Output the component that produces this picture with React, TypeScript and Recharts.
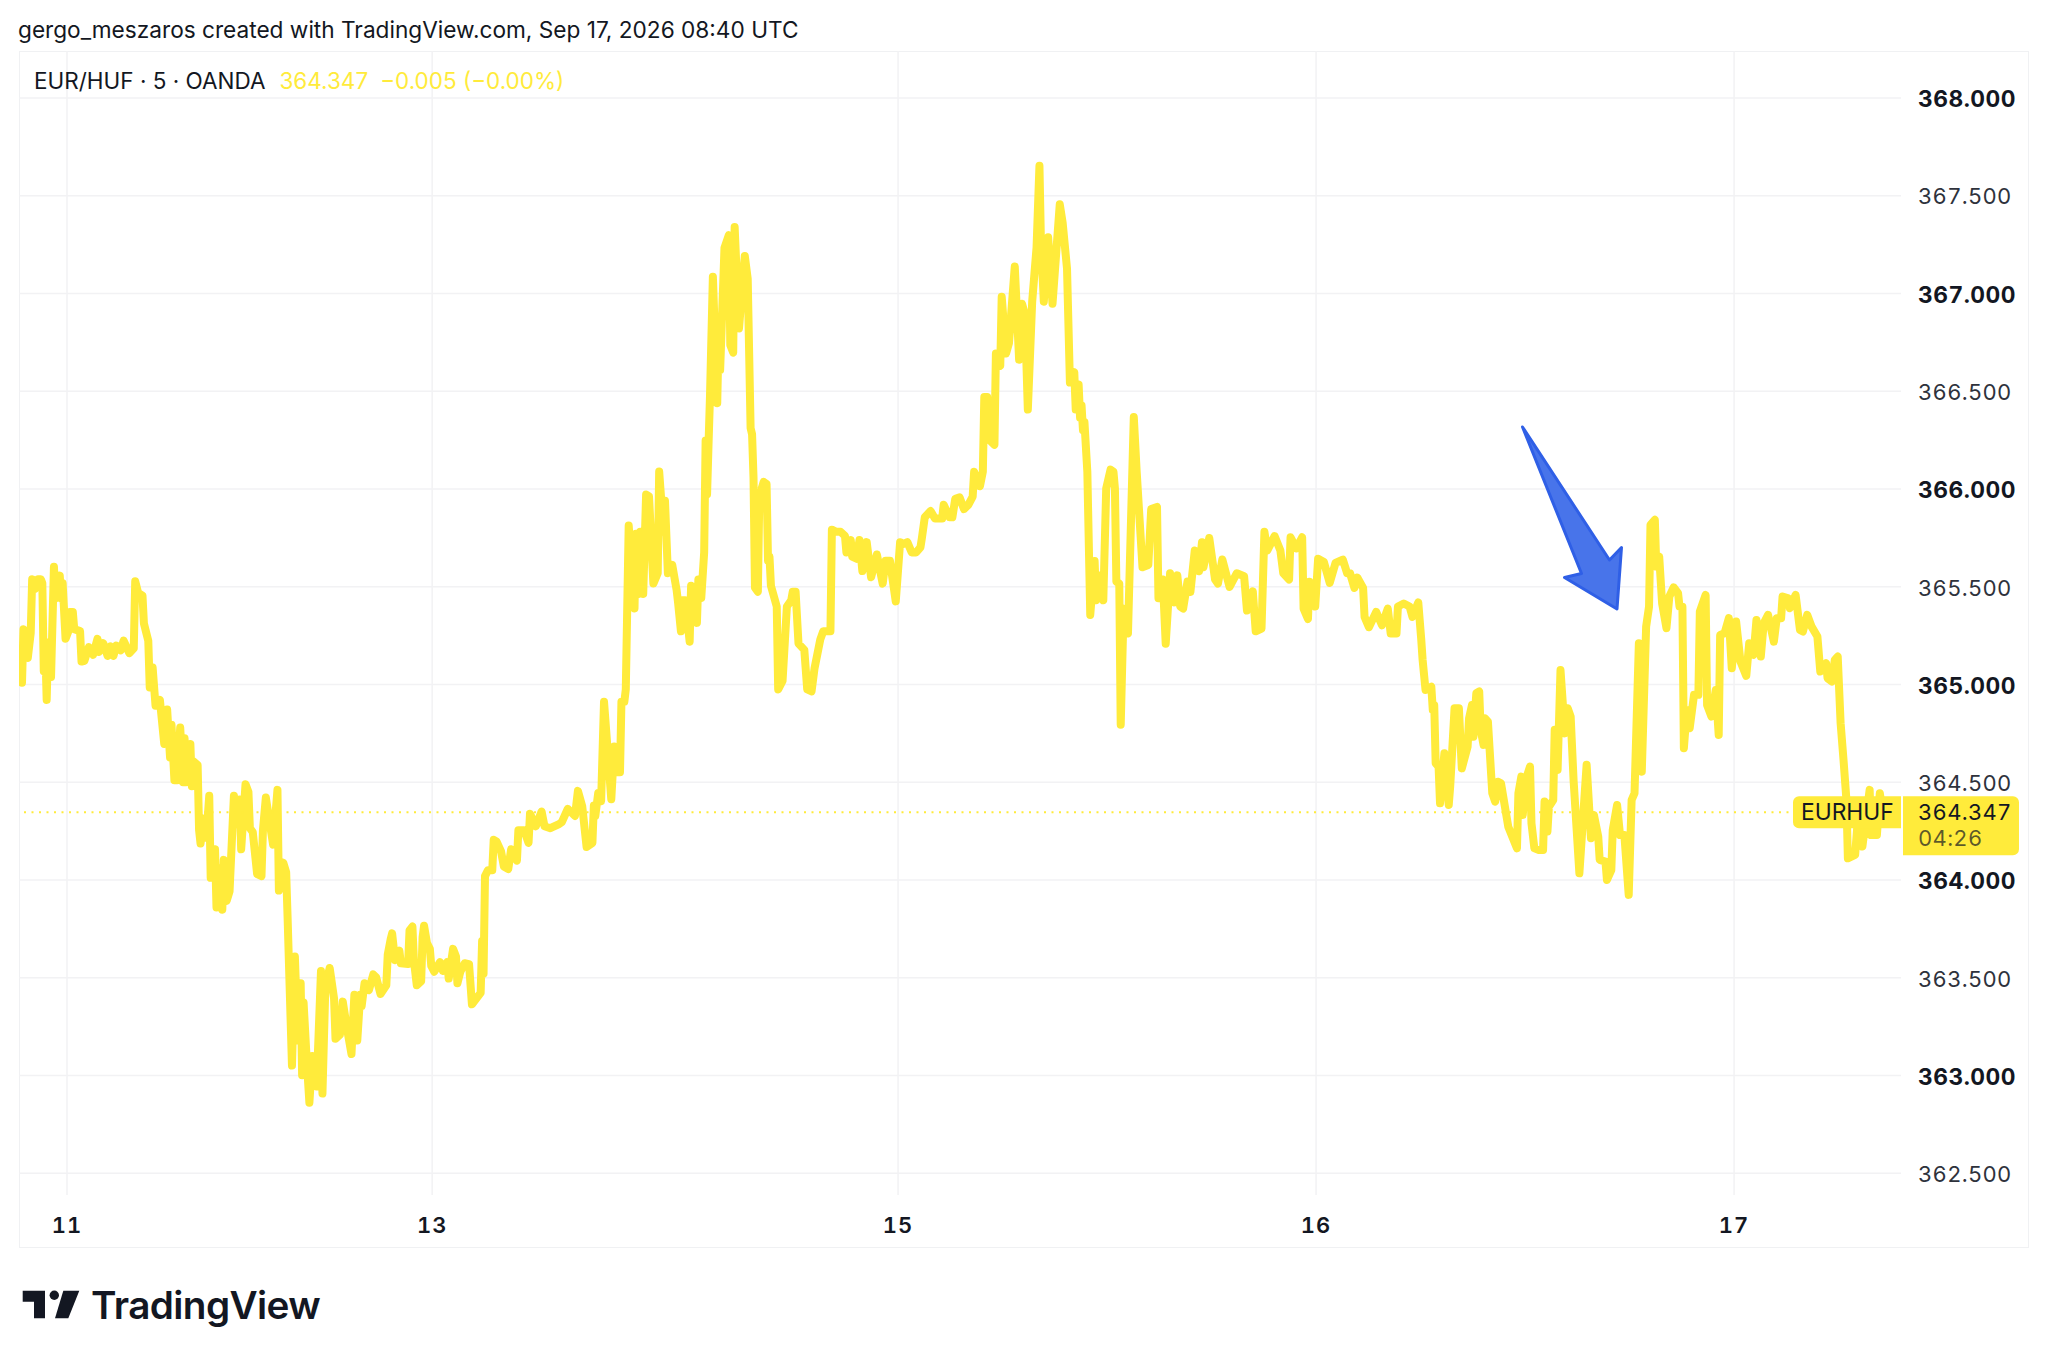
import { CartesianGrid, Line, LineChart, ReferenceLine, XAxis, YAxis } from 'recharts'

const WIDTH = 2048
const HEIGHT = 1362
const FONT = 'Inter, "Liberation Sans", sans-serif'
const INK = '#131722'
const YELLOW = '#FFEB3B'

// x is the 5 minute bar number counted from the "11" tick, y is the close
const day11: [number, number][] = [
  [-31, 365.009], [-30, 365.283], [-29, 365.273], [-27, 365.136], [-25, 365.263], [-24, 365.538], [-22, 365.489], [-20, 365.538],
  [-18, 365.538], [-17, 365.518], [-16, 365.068], [-15, 365.205], [-14, 364.921], [-13, 365.215], [-11, 365.038], [-9, 365.602],
  [-8, 365.44], [-5, 365.557], [-4, 365.44], [-3, 365.518], [-1, 365.234], [1, 365.273], [2, 365.371], [4, 365.371],
  [5, 365.283], [9, 365.273], [10, 365.117], [12, 365.121], [15, 365.191], [18, 365.152], [21, 365.234], [22, 365.166],
  [25, 365.211], [28, 365.146], [30, 365.195], [32, 365.146], [34, 365.199], [37, 365.175], [39, 365.224], [43, 365.16],
  [46, 365.185], [47, 365.528], [49, 365.469], [52, 365.455], [53, 365.312], [56, 365.224], [57, 364.985], [58, 365.009],
  [59, 365.087], [61, 364.891], [64, 364.921], [67, 364.696], [69, 364.872], [71, 364.627], [72, 364.794], [74, 364.51],
  [76, 364.51], [78, 364.78], [80, 364.5], [81, 364.725], [82, 364.5], [85, 364.696], [86, 364.48], [87, 364.608],
  [90, 364.588], [91, 364.255], [92, 364.187], [94, 364.314], [96, 364.216], [98, 364.431], [99, 364.011], [102, 364.157],
  [103, 363.86], [105, 364.06], [107, 363.848], [108, 364.103], [110, 363.893], [112, 363.942], [115, 364.431], [117, 364.285],
  [119, 364.412], [120, 364.157], [123, 364.49], [125, 364.451], [126, 364.265], [128, 364.245], [131, 364.03], [134, 364.02],
  [135, 364.255], [137, 364.422], [142, 364.181], [145, 364.461], [146, 363.946], [149, 364.089], [151, 364.04], [152, 363.805],
  [155, 363.051], [157, 363.609], [159, 363.179], [161, 363.472], [162, 363.002], [163, 363.374], [165, 363.1], [167, 362.861],
  [169, 363.1], [172, 362.944], [175, 363.535], [176, 362.908], [178, 363.453], [181, 363.55], [184, 363.394], [185, 363.188],
  [188, 363.208], [190, 363.378], [193, 363.237], [196, 363.11], [198, 363.413], [200, 363.179], [202, 363.413], [203, 363.355],
  [205, 363.472], [208, 363.437], [211, 363.517], [213, 363.502], [216, 363.417], [220, 363.462], [221, 363.619], [223, 363.697],
  [224, 363.727], [226, 363.59], [229, 363.639], [230, 363.574], [235, 363.57], [236, 363.742], [238, 363.762], [239, 363.59],
  [241, 363.462], [244, 363.482], [245, 363.707], [246, 363.766], [248, 363.678], [250, 363.648], [251, 363.56],
]

const day13: [number, number][] = [
  [253, 363.531], [257, 363.58], [259, 363.535], [262, 363.58], [263, 363.496], [266, 363.648], [268, 363.609], [269, 363.472],
  [271, 363.531], [274, 363.574], [277, 363.57], [279, 363.364], [285, 363.423], [286, 363.688], [287, 363.521], [288, 364.02],
  [290, 364.05], [293, 364.05], [294, 364.206], [296, 364.196], [299, 364.148], [301, 364.069], [304, 364.056], [306, 364.157],
  [310, 364.099], [311, 364.255], [315, 364.254], [318, 364.19], [319, 364.339], [323, 364.275], [327, 364.35], [329, 364.275],
  [333, 364.265], [339, 364.286], [341, 364.297], [345, 364.364], [350, 364.328], [352, 364.456], [355, 364.377], [358, 364.169],
  [362, 364.19], [363, 364.381], [364, 364.328], [366, 364.445], [368, 364.403], [370, 364.912], [375, 364.413], [377, 364.683],
  [379, 364.551], [381, 364.551], [382, 364.912], [384, 364.912], [385, 364.975], [387, 365.813], [391, 365.389], [392, 365.771],
  [394, 365.463], [395, 365.781], [397, 365.463], [399, 365.972], [401, 365.962], [404, 365.516], [407, 365.569], [408, 366.089],
  [411, 365.781], [412, 365.94], [414, 365.569], [417, 365.612], [420, 365.484], [421, 365.421], [423, 365.272], [424, 365.431],
  [426, 365.431], [429, 365.219], [430, 365.505], [434, 365.315], [435, 365.537], [437, 365.442], [439, 365.675], [440, 366.248],
  [441, 365.972], [442, 366.227], [443, 366.471], [445, 367.086], [448, 366.439], [449, 366.799], [450, 366.608], [453, 367.234],
  [456, 367.298], [457, 366.736], [459, 366.697], [460, 367.34], [463, 366.821], [467, 367.192], [469, 367.075], [471, 366.311],
  [472, 366.28], [473, 366.057], [474, 365.495], [476, 365.474], [477, 365.962], [480, 366.036], [482, 366.025], [483, 365.633],
  [484, 365.654], [485, 365.505], [489, 365.399], [490, 364.975], [493, 365.018], [495, 365.272], [496, 365.399], [499, 365.431],
  [500, 365.474], [502, 365.474], [504, 365.209], [508, 365.177], [510, 364.975], [513, 364.965], [515, 365.081], [519, 365.23],
  [521, 365.272], [526, 365.272], [527, 365.792], [530, 365.781], [533, 365.781], [536, 365.76], [537, 365.675], [540, 365.739],
  [541, 365.654], [544, 365.643], [546, 365.739], [548, 365.58], [551, 365.728], [554, 365.548], [558, 365.665], [562, 365.516],
  [564, 365.633], [567, 365.633], [571, 365.425],
]

const day15: [number, number][] = [
  [574, 365.728], [576, 365.718], [579, 365.728], [582, 365.675], [585, 365.675], [588, 365.701], [589, 365.749], [591, 365.855],
  [595, 365.887], [598, 365.849], [603, 365.849], [604, 365.919], [608, 365.855], [610, 365.855], [612, 365.95], [615, 365.957],
  [618, 365.897], [621, 365.919], [624, 365.961], [625, 366.088], [629, 366.014], [631, 366.088], [632, 366.47], [634, 366.47],
  [636, 366.247], [639, 366.226], [640, 366.693], [643, 366.629], [644, 366.983], [647, 366.693], [649, 366.746], [653, 367.138],
  [656, 366.661], [658, 366.947], [660, 366.894], [662, 366.406], [665, 366.958], [668, 367.234], [670, 367.653], [671, 367.276],
  [673, 366.958], [676, 367.287], [679, 366.947], [684, 367.456], [686, 367.361], [689, 367.127], [691, 366.544], [694, 366.597],
  [695, 366.406], [697, 366.534], [698, 366.364], [699, 366.428], [700, 366.3], [701, 366.343], [703, 366.088], [705, 365.356],
  [708, 365.632], [709, 365.431], [711, 365.558], [714, 365.431], [716, 366.003], [719, 366.099], [721, 366.088], [722, 366.003],
  [723, 365.526], [725, 365.516], [726, 364.794], [728, 365.388], [731, 365.261], [735, 366.368], [737, 366.088], [741, 365.6],
  [745, 365.611], [747, 365.897], [751, 365.908], [752, 365.441], [755, 365.537], [757, 365.208], [760, 365.569], [763, 365.42],
  [765, 365.558], [767, 365.399], [769, 365.388], [772, 365.526], [774, 365.473], [777, 365.685], [780, 365.579], [782, 365.728],
  [783, 365.6], [787, 365.749], [791, 365.537], [793, 365.516], [796, 365.639], [801, 365.499], [806, 365.569], [811, 365.554],
  [813, 365.378], [817, 365.477], [819, 365.272], [823, 365.286], [825, 365.781], [827, 365.685], [832, 365.759], [836, 365.685],
  [838, 365.569], [842, 365.537], [843, 365.753], [847, 365.696], [851, 365.753], [852, 365.388], [855, 365.335], [856, 365.526],
  [860, 365.399],
]

const day16: [number, number][] = [
  [862, 365.643], [866, 365.626], [870, 365.52], [874, 365.622], [879, 365.639], [882, 365.569], [884, 365.569], [887, 365.494],
  [889, 365.547], [893, 365.494], [894, 365.346], [897, 365.293], [902, 365.371], [906, 365.303], [910, 365.388], [912, 365.261],
  [916, 365.261], [917, 365.399], [921, 365.414], [925, 365.399], [927, 365.346], [931, 365.42], [933, 365.236], [934, 365.126],
  [935, 365.049], [936, 364.972], [940, 364.989], [941, 364.87], [942, 364.895], [943, 364.597], [945, 364.58], [946, 364.392],
  [949, 364.648], [952, 364.384], [953, 364.478], [956, 364.878], [959, 364.878], [961, 364.571], [965, 364.682], [966, 364.827],
  [968, 364.895], [969, 364.733], [971, 364.955], [973, 364.964], [974, 364.768], [976, 364.691], [977, 364.827], [979, 364.81],
  [982, 364.444], [984, 364.401], [986, 364.503], [988, 364.495], [993, 364.273], [999, 364.162], [1000, 364.444], [1002, 364.529],
  [1003, 364.333], [1005, 364.512], [1008, 364.58], [1009, 364.29], [1011, 364.162], [1014, 364.154], [1017, 364.154], [1018, 364.401],
  [1020, 364.248], [1021, 364.375], [1024, 364.409], [1025, 364.768], [1027, 364.563], [1029, 365.074], [1032, 364.75], [1034, 364.878],
  [1036, 364.836], [1038, 364.512], [1042, 364.034], [1047, 364.589], [1050, 364.213], [1052, 364.333], [1055, 364.222], [1056, 364.103],
  [1060, 364.094], [1061, 364.0], [1064, 364.051], [1065, 364.256], [1068, 364.384], [1070, 364.23], [1073, 364.23], [1076, 363.924],
  [1078, 364.409], [1080, 364.444], [1083, 365.211], [1085, 364.554], [1088, 365.296], [1090, 365.398], [1091, 365.816], [1094, 365.842],
  [1095, 365.603], [1097, 365.654], [1099, 365.415], [1102, 365.288], [1104, 365.45], [1107, 365.497], [1110, 365.467], [1111, 365.398],
  [1113, 365.398], [1114, 364.674], [1116, 364.87], [1118, 364.776], [1121, 364.947], [1124, 364.947], [1125, 365.373], [1129, 365.458],
  [1130, 364.895], [1133, 364.836], [1136, 364.972], [1138, 364.742],
]

const day17: [number, number][] = [
  [1139, 365.253], [1142, 365.262], [1145, 365.339], [1147, 365.083], [1150, 365.322], [1153, 365.117], [1157, 365.044], [1159, 365.211],
  [1162, 365.151], [1164, 365.33], [1167, 365.143], [1169, 365.313], [1172, 365.356], [1176, 365.219], [1178, 365.339], [1181, 365.339],
  [1182, 365.45], [1186, 365.441], [1187, 365.39], [1191, 365.458], [1194, 365.279], [1196, 365.271], [1199, 365.356], [1202, 365.296],
  [1206, 365.245], [1208, 365.066], [1212, 365.109], [1213, 365.032], [1216, 365.015], [1218, 365.126], [1220, 365.143], [1222, 364.802],
  [1224, 364.614], [1226, 364.409], [1227, 364.111], [1232, 364.128], [1234, 364.324], [1237, 364.171], [1242, 364.461], [1243, 364.23],
  [1247, 364.23], [1249, 364.444], [1251, 364.347],
]

const priceTicks = [362.5, 363, 363.5, 364, 364.5, 365, 365.5, 366, 366.5, 367, 367.5, 368]
const dayTicks = [0, 251.6, 572.6, 860.6, 1148.6]
const dayLabels = ['11', '13', '15', '16', '17']
const lastPrice = 364.347
const countdown = '04:26'

const rows = [...day11, ...day13, ...day15, ...day16, ...day17].map(([bar, close]) => ({ bar, close }))

const TNUM = { fontFeatureSettings: '"tnum"' }

function PriceTick({ x, y, payload }: any) {
  const whole = Number.isInteger(payload.value)
  return (
    <text
      x={x - 1}
      y={y}
      dy="0.4em"
      textAnchor="start"
      fontFamily={FONT}
      fontSize={whole ? 22.8 : 22}
      fontWeight={whole ? 700 : 400}
      letterSpacing={whole ? 0.5 : 0.3}
      fill={whole ? INK : '#2e323c'}
      style={TNUM}
    >
      {payload.value.toFixed(3)}
    </text>
  )
}

function DayTick({ x, y, payload, index }: any) {
  return (
    <text x={x} y={y} dy="0.36em" textAnchor="middle" fontFamily={FONT} fontSize={22} fontWeight={600} letterSpacing={1} fill={INK} style={TNUM}>
      {dayLabels[index] ?? payload.value}
    </text>
  )
}

function LastPriceTag({ viewBox }: any) {
  const right = viewBox.x + viewBox.width
  const y = viewBox.y
  return (
    <g fontFamily={FONT} fontSize={22} style={TNUM}>
      <path
        d={`M${right} ${y - 16}H${right - 102}a6 6 0 0 0 -6 6V${y + 10}a6 6 0 0 0 6 6H${right}Z`}
        fill={YELLOW}
      />
      <text x={right - 100} y={y} dy="0.36em" fontSize={22.8} fill={INK}>EURHUF</text>
      <path
        d={`M${right + 2} ${y - 16}H${right + 112}a6 6 0 0 1 6 6V${y + 37}a6 6 0 0 1 -6 6H${right + 2}Z`}
        fill={YELLOW}
      />
      <text x={right + 17} y={y} dy="0.36em" letterSpacing={0.3} fill={INK}>{lastPrice.toFixed(3)}</text>
      <text x={right + 17} y={y + 26} dy="0.36em" letterSpacing={0.3} fill={INK} fillOpacity={0.7}>{countdown}</text>
    </g>
  )
}

export default function App() {
  return (
    <div style={{ position: 'absolute', left: 0, top: 0, width: WIDTH, height: HEIGHT, background: '#fff', overflow: 'hidden' }}>
      <div style={{ position: 'absolute', left: 18, top: 16, fontFamily: FONT, fontSize: 22.65, lineHeight: '28px', color: INK, whiteSpace: 'nowrap' }}>
        gergo_meszaros created with TradingView.com, Sep 17, 2026 08:40 UTC
      </div>
      <div style={{ position: 'absolute', left: 19, top: 51, width: 2010, height: 1197, border: '1px solid #f0f1f3', boxSizing: 'border-box' }} />

      <LineChart
        width={WIDTH}
        height={HEIGHT}
        data={rows}
        margin={{ top: 51, left: 19, right: 18, bottom: 114 }}
        style={{ position: 'absolute', left: 0, top: 0 }}
      >
        <CartesianGrid stroke="#f2f2f4" strokeWidth={1.5} syncWithTicks />
        <XAxis
          type="number"
          dataKey="bar"
          domain={[-33.07, 1263.6]}
          ticks={dayTicks}
          allowDataOverflow
          height={53}
          axisLine={false}
          tickLine={false}
          tickMargin={24}
          interval={0}
          tick={<DayTick />}
        />
        <YAxis
          orientation="right"
          type="number"
          domain={[362.389, 368.24]}
          ticks={priceTicks}
          allowDataOverflow
          width={129}
          axisLine={false}
          tickLine={false}
          tickSize={0}
          tickMargin={18}
          interval={0}
          tick={<PriceTick />}
        />
        <Line
          type="linear"
          dataKey="close"
          stroke={YELLOW}
          strokeWidth={8}
          strokeLinejoin="round"
          strokeLinecap="round"
          dot={false}
          isAnimationActive={false}
        />
        <ReferenceLine
          y={lastPrice}
          stroke={YELLOW}
          strokeWidth={2}
          strokeDasharray="2 5.5"
          label={<LastPriceTag />}
        />
      </LineChart>

      {/* drawing tool arrow, sits on top of the chart */}
      <svg width={WIDTH} height={HEIGHT} style={{ position: 'absolute', left: 0, top: 0, pointerEvents: 'none' }}>
        <polygon
          points="1522.5,427 1609.5,560 1621.5,547.5 1617,609 1564.5,577.5 1581.5,573.5"
          fill="#4874ea"
          stroke="#2f5fe6"
          strokeWidth={3}
          strokeLinejoin="round"
        />
        <path d="M22.7 1290.7H45V1318.3H34V1301.7H22.7Z" fill={INK} />
        <circle cx={54.3} cy={1295.3} r={4.7} fill={INK} />
        <path d="M63.3 1290.7H79.3L68.3 1318.3H55Z" fill={INK} />
      </svg>

      <div style={{ position: 'absolute', left: 34, top: 67, fontFamily: FONT, fontSize: 22.5, lineHeight: '28px', whiteSpace: 'nowrap', color: INK }}>
        EUR/HUF · 5 · OANDA
        <span style={{ color: YELLOW, marginLeft: 14 }}>364.347</span>
        <span style={{ color: YELLOW, marginLeft: 12 }}>−0.005 (−0.00%)</span>
      </div>
      <div style={{ position: 'absolute', left: 91, top: 1282, fontFamily: FONT, fontSize: 38.7, fontWeight: 600, lineHeight: '46px', letterSpacing: -0.6, color: INK, whiteSpace: 'nowrap' }}>
        TradingView
      </div>
    </div>
  )
}
